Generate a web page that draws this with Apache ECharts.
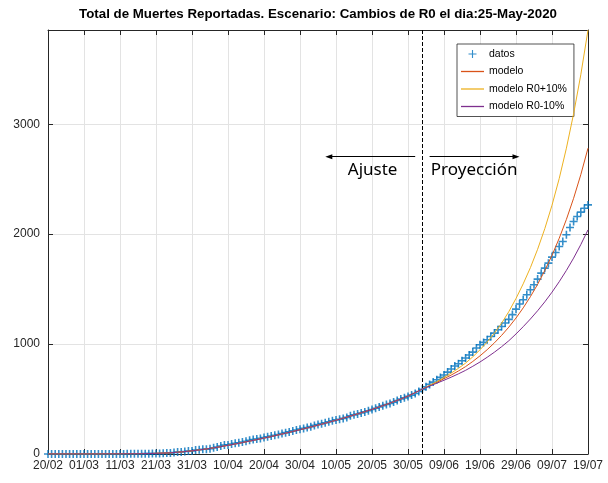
<!DOCTYPE html>
<html>
<head>
<meta charset="utf-8">
<script src="https://cdn.jsdelivr.net/npm/echarts@6/dist/echarts.min.js"></script>
<style>
  html, body { margin: 0; padding: 0; background: #fff; }
  #chart { width: 608px; height: 483px; }
</style>
</head>
<body>
<div id="chart"></div>
<script>
// Day 0 is 20/02/2020; one tick label every 10 days
const tickLabels = ['20/02', '01/03', '11/03', '21/03', '31/03', '10/04', '20/04', '30/04',
  '10/05', '20/05', '30/05', '09/06', '19/06', '29/06', '09/07', '19/07'];

// Reported cumulative deaths, one value per day (day 0 .. 150)
const deaths = [
  0, 0, 0, 0, 0, 0, 0, 0, 0, 0, 0, 0, 0, 0, 0, 0,
  1, 1, 1, 1, 1, 1, 2, 2, 2, 2, 2, 3, 3, 4, 4, 4, 6, 8, 9, 13, 18, 19, 23, 27,
  28, 36, 39, 43, 44, 48, 56, 63, 72, 82,
  83, 90, 97, 102, 109, 116, 124, 131, 136, 142, 150, 156, 163, 170, 178, 186, 194, 201, 210, 218,
  226, 233, 240, 249, 260, 268, 276, 284, 293, 302, 310, 316, 324, 333, 348, 356, 364, 373, 383, 394,
  405, 416, 428, 440, 450, 460, 472, 486, 500, 511, 524, 536, 550, 568, 588,
  612, 633, 654, 675, 697, 718, 745, 773, 800, 821, 848, 873, 900, 927, 964,
  994, 1015, 1039, 1069, 1100, 1130, 1160, 1191, 1225, 1268, 1318, 1364, 1403, 1448, 1494,
  1539, 1591, 1645, 1691, 1736, 1791, 1833, 1887, 1933, 1994, 2060, 2115, 2160, 2200, 2236, 2266
];

// Fitted model, every 2 days from day 0 to the end of the fit (day 104)
const modelStep = 2;
const fitEnd = 104;
const modelFit = [
  0, 0, 0, 0, 0, 0, 0, 0,
  1, 1, 1, 2, 2, 3, 4, 6, 8, 11, 16, 22, 29, 37, 46, 56, 67, 79, 91, 104,
  117, 131, 145, 159, 174, 189, 205, 221, 237, 254, 271, 289, 307, 326, 345, 365,
  385, 406, 428, 451, 475, 500, 527, 558, 591
];

// Projections after the fit, every 2 days from day 106 to day 150
const projModel = [622, 652, 685, 718, 755, 795, 842, 893, 949, 1011, 1079, 1154,
  1237, 1329, 1431, 1543, 1669, 1807, 1962, 2134, 2326, 2541, 2782];
const projUp = [624, 658, 697, 736, 779, 827, 884, 948, 1019, 1099, 1190, 1295,
  1415, 1548, 1695, 1862, 2050, 2263, 2505, 2782, 3095, 3450, 3857];
const projDown = [618, 644, 671, 699, 729, 761, 798, 837, 880, 926, 976, 1030,
  1092, 1158, 1228, 1303, 1384, 1472, 1567, 1670, 1782, 1905, 2039];

const yMax = 3857;
const lastDay = 150;

const colors = { datos: '#0072BD', modelo: '#D95319', up: '#EDB120', down: '#7E2F8E' };

const dataPoints = deaths.map((v, i) => [i, v]);
function modelCurve(proj) {
  const pts = modelFit.map((v, i) => [i * modelStep, v]);
  proj.forEach((v, i) => pts.push([fitEnd + (i + 1) * modelStep, v]));
  return pts;
}

// '+' marker as a thin filled cross
const plus = 'path://M-0.2,-1 L0.2,-1 L0.2,-0.2 L1,-0.2 L1,0.2 L0.2,0.2 L0.2,1 L-0.2,1 L-0.2,0.2 L-1,0.2 L-1,-0.2 L-0.2,-0.2 Z';
const plusIcon = 'path://M-0.14,-1 L0.14,-1 L0.14,-0.14 L1,-0.14 L1,0.14 L0.14,0.14 L0.14,1 L-0.14,1 L-0.14,0.14 L-1,0.14 L-1,-0.14 L-0.14,-0.14 Z';
// flat line sample used in the legend
const lineIcon = 'path://M0,0 L23,0 L23,1.3 L0,1.3 Z';

const axisColor = '#262626';
const gridColor = '#e3e3e3';
const font = 'Liberation Sans, Arial, Helvetica, sans-serif';

const chart = echarts.init(document.getElementById('chart'), null, { renderer: 'canvas' });

const option = {
  animation: false,
  backgroundColor: '#fff',
  title: {
    text: 'Total de Muertes Reportadas. Escenario: Cambios de R0 el dia:25-May-2020',
    left: 313,
    textAlign: 'center',
    top: 3,
    textStyle: { fontFamily: font, fontSize: 13.3, fontWeight: 'bold', color: '#000' }
  },
  grid: { left: 48, right: 20, top: 30, bottom: 29, containLabel: false },
  legend: {
    orient: 'vertical',
    left: 457,
    top: 44,
    padding: [4, 7, 4, 4],
    itemWidth: 23,
    itemHeight: 8,
    itemGap: 5.5,
    backgroundColor: '#fff',
    borderColor: axisColor,
    borderWidth: 0.8,
    borderRadius: 0,
    selectedMode: false,
    textStyle: { fontFamily: font, fontSize: 10.5, color: '#000', lineHeight: 12 },
    data: [
      { name: 'datos', icon: plusIcon, itemStyle: { color: colors.datos } },
      { name: 'modelo', icon: lineIcon, itemStyle: { color: colors.modelo } },
      { name: 'modelo R0+10%', icon: lineIcon, itemStyle: { color: colors.up } },
      { name: 'modelo R0-10%', icon: lineIcon, itemStyle: { color: colors.down } }
    ]
  },
  xAxis: [
    {
      type: 'value', min: 0, max: lastDay, interval: 10, position: 'bottom',
      axisLine: { show: true, onZero: false, lineStyle: { color: axisColor, width: 1 } },
      axisTick: { show: true, inside: true, length: 5, lineStyle: { color: axisColor } },
      splitLine: { show: true, lineStyle: { color: gridColor, width: 1 } },
      axisLabel: {
        fontFamily: font, fontSize: 12, color: axisColor, margin: 6,
        formatter: v => tickLabels[Math.round(v / 10)] || ''
      }
    },
    {
      type: 'value', min: 0, max: lastDay, interval: 10, position: 'top',
      axisLine: { show: true, onZero: false, lineStyle: { color: axisColor, width: 1 } },
      axisTick: { show: true, inside: true, length: 5, lineStyle: { color: axisColor } },
      splitLine: { show: false },
      axisLabel: { show: false }
    }
  ],
  yAxis: [
    {
      type: 'value', min: 0, max: yMax, interval: 1000, position: 'left',
      axisLine: { show: true, onZero: false, lineStyle: { color: axisColor, width: 1 } },
      axisTick: { show: true, inside: true, length: 5, lineStyle: { color: axisColor } },
      splitLine: { show: true, lineStyle: { color: gridColor, width: 1 } },
      axisLabel: {
        fontFamily: font, fontSize: 12, color: axisColor, margin: 8, showMaxLabel: false,
        formatter: v => (v % 1000 === 0 ? String(v) : '')
      }
    },
    {
      type: 'value', min: 0, max: yMax, interval: 1000, position: 'right',
      axisLine: { show: true, onZero: false, lineStyle: { color: axisColor, width: 1 } },
      axisTick: { show: true, inside: true, length: 5, lineStyle: { color: axisColor } },
      splitLine: { show: false },
      axisLabel: { show: false }
    }
  ],
  series: [
    {
      name: 'datos',
      type: 'scatter',
      data: dataPoints,
      symbol: plus,
      symbolSize: 8,
      itemStyle: { color: colors.datos },
      z: 2,
      markLine: {
        silent: true,
        symbol: ['none', 'none'],
        label: { show: false },
        lineStyle: { color: '#000', type: [4, 2], width: 1 },
        data: [{ xAxis: fitEnd }]
      }
    },
    {
      name: 'modelo',
      type: 'line',
      data: modelCurve(projModel),
      symbol: 'none',
      lineStyle: { color: colors.modelo, width: 1 },
      itemStyle: { color: colors.modelo },
      z: 3
    },
    {
      name: 'modelo R0+10%',
      type: 'line',
      data: modelCurve(projUp),
      symbol: 'none',
      lineStyle: { color: colors.up, width: 1 },
      itemStyle: { color: colors.up },
      z: 4
    },
    {
      name: 'modelo R0-10%',
      type: 'line',
      data: modelCurve(projDown),
      symbol: 'none',
      lineStyle: { color: colors.down, width: 1 },
      itemStyle: { color: colors.down },
      z: 5,
      markLine: {
        silent: true,
        symbol: ['none', 'triangle'],
        symbolSize: [5, 7],
        label: { show: false },
        lineStyle: { color: '#000', type: 'solid', width: 1 },
        data: [
          [{ coord: [fitEnd - 2, 2705] }, { coord: [fitEnd - 26, 2705] }],
          [{ coord: [fitEnd + 2, 2705] }, { coord: [fitEnd + 26, 2705] }]
        ]
      },
      markPoint: {
        silent: true,
        symbol: 'rect',
        symbolSize: 1,
        itemStyle: { color: 'rgba(0,0,0,0)' },
        label: {
          show: true, distance: 0, color: '#000',
          fontFamily: 'Noto Sans', fontSize: 17,
          formatter: p => p.name
        },
        data: [
          { name: 'Ajuste', coord: [fitEnd - 6.8, 2578], label: { position: 'left' } },
          { name: 'Proyección', coord: [fitEnd + 2.2, 2578], label: { position: 'right' } }
        ]
      }
    }
  ]
};

chart.setOption(option);
</script>
</body>
</html>
